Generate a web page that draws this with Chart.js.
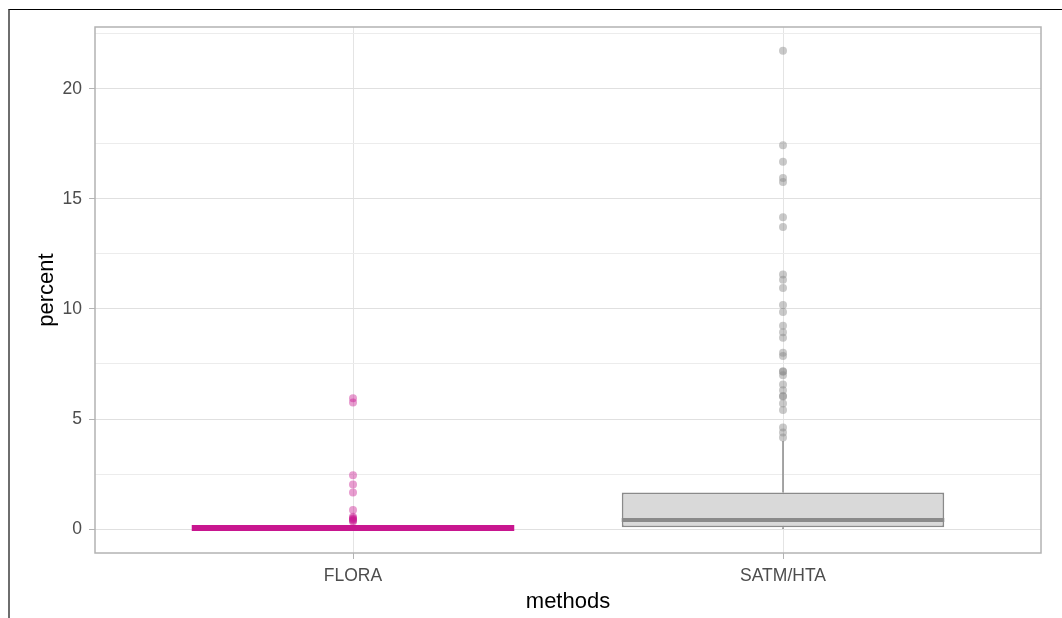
<!DOCTYPE html>
<html>
<head>
<meta charset="utf-8">
<script src="https://cdn.jsdelivr.net/npm/chart.js@4.4.1/dist/chart.umd.min.js"></script>
<style>
  html, body { margin: 0; padding: 0; background: #fff; }
  #wrap { position: relative; width: 1062px; height: 618px; overflow: hidden; }
  #frame { position: absolute; left: 8px; top: 9px; right: 0; bottom: 0;
           border-top: 1px solid #000; border-left: 2px solid #6e6e6e; }
  canvas { position: absolute; left: 0; top: 0; }
</style>
</head>
<body>
<div id="wrap">
  <div id="frame"></div>
  <canvas id="chart" width="1062" height="618"></canvas>
</div>
<script>
// Box-plot summaries per method
const categories = ['FLORA', 'SATM/HTA'];
const q1 = [0.05, 0.08];
const medians = [0.05, 0.41];
const q3 = [0.05, 1.66];
const whiskerLow = [0.05, 0];
const whiskerHigh = [0.05, 4.0];

// Outlying observations per method
const outliersFlora = [5.94, 5.75, 2.44, 2.02, 1.66, 0.87, 0.56, 0.50, 0.46, 0.42, 0.38, 0.35];
const outliersSatm = [21.73, 17.44, 16.68, 15.95, 15.77, 14.16, 13.72, 11.56, 11.33, 10.95,
                      10.18, 9.86, 9.24, 8.94, 8.69, 8.01, 7.86, 7.17, 7.15, 6.99, 6.57,
                      6.31, 6.04, 6.02, 5.71, 5.41, 4.62, 4.39, 4.16];
const outliers = [outliersFlora, outliersSatm];

// y-axis ticks: labelled majors and unlabelled minor grid positions
const yMajor = [0, 5, 10, 15, 20];
const yMinor = [2.5, 7.5, 12.5, 17.5, 22.5];
const yRange = [-1.086, 22.806];

const lineColors = ['#C8168F', '#8A8A8A'];
const fillColors = ['#C8168F', '#D9D9D9'];
const pointColors = ['rgba(200,22,143,0.42)', 'rgba(135,135,135,0.45)'];
const medianWidths = [6, 4];
const BOX_HALF = 0.375;

Chart.defaults.font.family = "'Liberation Sans', Arial, sans-serif";

const datasets = [];

// whiskers (lower and upper segments, separated by a gap)
categories.forEach((c, i) => {
  datasets.push({
    type: 'line',
    data: [
      { x: i + 1, y: whiskerLow[i] }, { x: i + 1, y: q1[i] },
      { x: i + 1, y: null },
      { x: i + 1, y: q3[i] }, { x: i + 1, y: whiskerHigh[i] }
    ],
    borderColor: lineColors[i],
    borderWidth: 1.5,
    pointRadius: 0,
    spanGaps: false,
    order: 4
  });
});

// boxes: floating bars from Q1 to Q3
datasets.push({
  type: 'bar',
  data: categories.map((c, i) => ({ x: i + 1, y: [q1[i], q3[i]] })),
  backgroundColor: fillColors,
  borderColor: lineColors,
  borderWidth: 1.8,
  borderSkipped: false,
  categoryPercentage: 0.75,
  barPercentage: 1,
  order: 3
});

// medians
categories.forEach((c, i) => {
  datasets.push({
    type: 'line',
    data: [{ x: i + 1 - BOX_HALF, y: medians[i] }, { x: i + 1 + BOX_HALF, y: medians[i] }],
    borderColor: lineColors[i],
    borderWidth: medianWidths[i],
    borderCapStyle: 'butt',
    pointRadius: 0,
    order: 2
  });
});

// outlier points
categories.forEach((c, i) => {
  datasets.push({
    type: 'scatter',
    data: outliers[i].map(v => ({ x: i + 1, y: v })),
    backgroundColor: pointColors[i],
    borderWidth: 0,
    pointRadius: 4,
    pointHoverRadius: 4,
    order: 1
  });
});

const panelBorder = {
  id: 'panelBorder',
  afterDatasetsDraw(chart) {
    const { ctx, chartArea: a } = chart;
    ctx.save();
    ctx.strokeStyle = '#b3b3b3';
    ctx.lineWidth = 1.5;
    ctx.strokeRect(a.left, a.top, a.right - a.left, a.bottom - a.top);
    ctx.restore();
  }
};

new Chart(document.getElementById('chart'), {
  type: 'bar',
  data: { datasets },
  plugins: [panelBorder],
  options: {
    responsive: false,
    animation: false,
    devicePixelRatio: 1,
    layout: { padding: { top: 27, right: 21, left: 0, bottom: 0 } },
    plugins: { legend: { display: false }, tooltip: { enabled: false } },
    scales: {
      x: {
        type: 'linear',
        min: 0.4,
        max: 2.6,
        offset: false,
        afterBuildTicks: s => { s.ticks = categories.map((c, i) => ({ value: i + 1 })); },
        afterFit: s => { s.height = 65; },
        ticks: {
          callback: v => categories[v - 1] ?? '',
          autoSkip: false,
          maxRotation: 0,
          color: '#4d4d4d',
          font: { size: 17.5 },
          padding: 7
        },
        grid: { color: '#e4e4e4', tickColor: '#b3b3b3', tickLength: 6, offset: false, lineWidth: 1 },
        border: { display: false },
        title: {
          display: true, text: 'methods', color: '#000',
          font: { size: 22 }, padding: { top: 0, bottom: 3 }
        }
      },
      y: {
        type: 'linear',
        min: yRange[0],
        max: yRange[1],
        afterBuildTicks: s => {
          s.ticks = [...yMajor, ...yMinor].sort((a, b) => a - b).map(v => ({ value: v }));
        },
        afterFit: s => { s.width = 95; },
        ticks: {
          callback: v => (yMajor.includes(v) ? String(v) : ''),
          autoSkip: false,
          color: '#4d4d4d',
          font: { size: 17.5 },
          padding: 7
        },
        grid: {
          color: c => (yMajor.includes(c.tick && c.tick.value) ? '#e0e0e0' : '#ececec'),
          tickColor: c => (yMajor.includes(c.tick && c.tick.value) ? '#b3b3b3' : 'rgba(0,0,0,0)'),
          tickLength: 6,
          lineWidth: 1
        },
        border: { display: false },
        title: {
          display: true, text: 'percent', color: '#000',
          font: { size: 22 }, padding: { top: 34, bottom: 0 }
        }
      }
    }
  }
});
</script>
</body>
</html>
